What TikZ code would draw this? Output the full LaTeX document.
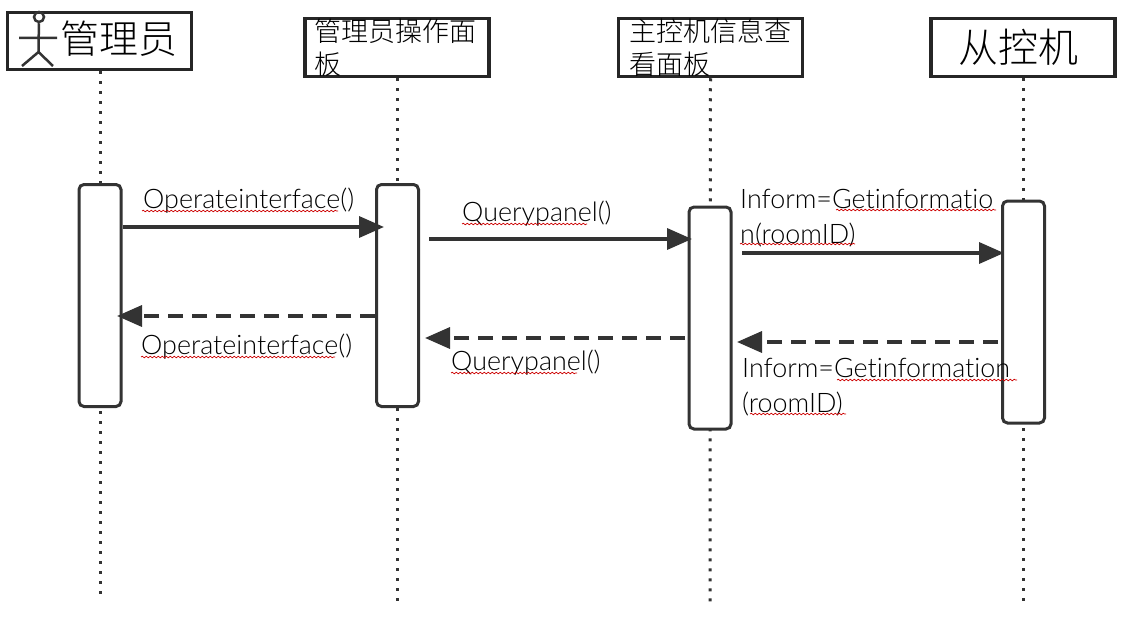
\documentclass[tikz,border=0pt]{standalone}
\usepackage{fontspec}
\setmainfont[Ligatures=NoCommon]{Lato Light}
\newfontfamily\cjk{Noto Sans CJK SC Light}
\usetikzlibrary{arrows.meta,decorations.pathmorphing}

\begin{document}
\begin{tikzpicture}[x=1pt,y=-1pt]
\tikzset{headbox/.style = {draw=black!85,line width=3.5pt,fill=white,minimum width=184pt,minimum height=58pt,inner sep=0pt,align=left}}
\tikzset{bar/.style = {draw=black!80,line width=3pt,fill=white,rounded corners=5pt,minimum width=42pt,minimum height=222pt,inner sep=0pt}}
\tikzset{life/.style = {draw=black!80,line width=3pt,dash pattern=on 3pt off 7pt}}
\tikzset{edge/.style = {draw=black!80,line width=3.5pt,-{Triangle[length=25pt,width=21pt]}}}
\tikzset{back/.style = {edge,dash pattern=on 15pt off 9pt}}
\tikzset{msg/.style = {anchor=base west,inner sep=0pt,align=left,font=\fontsize{26.9}{35}\selectfont}}
\tikzset{spell/.style = {draw=red!80!black,line width=0.7pt,decorate,decoration={snake,amplitude=0.8pt,segment length=4pt}}}
\useasboundingbox (0,0) rectangle (1125,618);

% life lines
\coordinate (e1) at (100,600);
\coordinate (e2) at (397,604);
\coordinate (e3) at (710,604);
\coordinate (e4) at (1023,604);

\node[headbox,minimum height=57pt] (admin) at (99.5,41) {};
\node[headbox,text width=165pt,font=\cjk\fontsize{27}{33}\selectfont] (panel) at (397,47.5) {管理员操作面\\板};
\node[headbox,font=\cjk\fontsize{27}{33}\selectfont] (view) at (710.5,47.5) {主控机信息查\\看面板};
\node[headbox,text width=130pt,font=\cjk\fontsize{40}{44}\selectfont] (slave) at (1023,47.5) {从控机};
\node[font=\cjk\fontsize{39}{44}\selectfont,inner sep=0pt] (adminname) at (118.5,39) {管理员};

\draw[life] (admin.south -| e1) -- (e1);
\draw[life] (panel.south) -- (e2);
\draw[life] (view.south) -- (e3);
\draw[life] (slave.south) -- (e4);

% actor
\node[draw=black!80,line width=2.5pt,circle,minimum size=10pt,inner sep=0pt] (head) at (39,17) {};
\coordinate (hip) at (38.5,52);
\coordinate (armL) at (19,38);
\coordinate (armR) at (57,38);
\coordinate (legL) at (22,66);
\coordinate (legR) at (53,66);
\draw[black!80,line width=2.5pt] (head) -- (hip) (armL) -- (armR) (legL) -- (hip) -- (legR);

\node[bar] (a) at (100,295.5) {};
\node[bar] (b) at (397.5,295.5) {};
\node[bar] (c) at (710,318) {};
\node[bar] (d) at (1023.5,312) {};

% messages
\coordinate (m1) at (384,227);
\coordinate (m2s) at (429,239);
\coordinate (m2) at (692,239);
\coordinate (m3s) at (742,253);
\coordinate (m3) at (1004,253);
\coordinate (r1) at (117,316);
\coordinate (r2s) at (685,338);
\coordinate (r2) at (425,338);
\coordinate (r3s) at (998,342);
\coordinate (r3) at (737,342);

\draw[edge] (a.east |- m1) -- (m1);
\draw[edge] (m2s) -- (m2);
\draw[edge] (m3s) -- (m3);
\draw[back] (b.west |- r1) -- (r1);
\draw[back] (r2s) -- (r2);
\draw[back] (r3s) -- (r3);

\node[msg] (t1) at (143,208) {Operateinterface()};
\node[msg] (t2) at (462,221) {Querypanel()};
\node[msg] (t3) at (740,243) {Inform=Getinformatio\\n(roomID)};
\node[msg] (t4) at (141,354) {Operateinterface()};
\node[msg] (t5) at (451,370) {Querypanel()};
\node[msg] (t6) at (742,412) {Inform=Getinformation\\(roomID)};

% spelling marks
\foreach \xa/\xb/\yy in {142/338/211,462/587/224,836/996/210,740/855/244,141/335/357,451/577/373,837/1017/380,750/846/414}
  \draw[spell] (\xa,\yy) -- (\xb,\yy);

\end{tikzpicture}
\end{document}
